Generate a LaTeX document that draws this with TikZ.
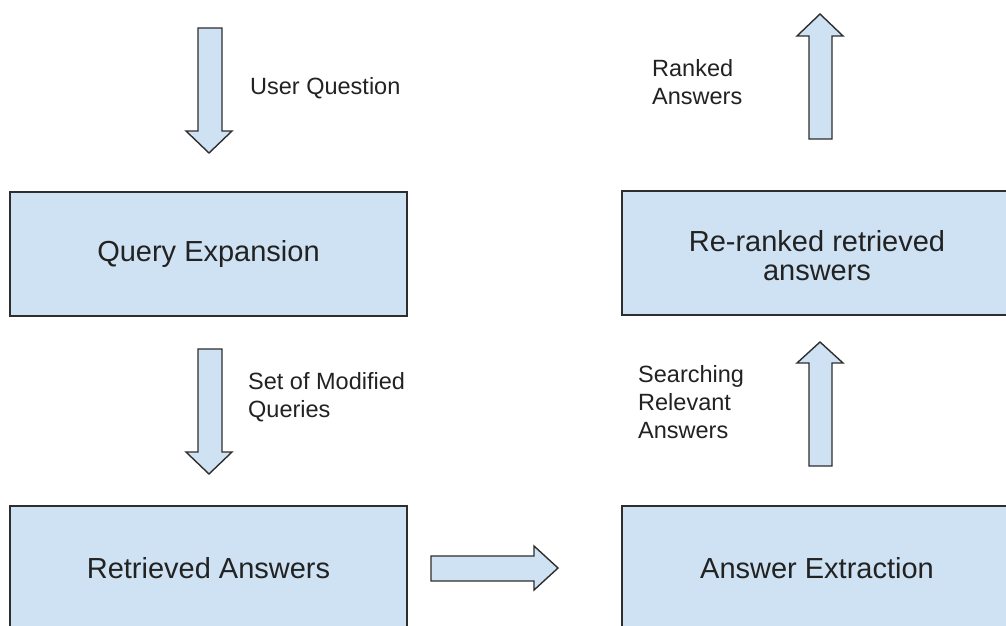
\documentclass[tikz,border=0pt]{standalone}
\usepackage{fontspec}
\setmainfont{Liberation Sans}
\definecolor{boxfill}{HTML}{CFE2F3}
\definecolor{edge}{HTML}{2E2E2E}
\definecolor{txt}{HTML}{222222}
\begin{document}
\begin{tikzpicture}[x=1pt,y=-1pt,
  stagebox/.style={draw=edge,line width=1.6pt,fill=boxfill,rectangle,inner sep=0pt,
    text=txt,align=center,font=\fontsize{29}{27}\selectfont},
  boxtext/.style={inner sep=0pt,text=txt,align=center,font=\fontsize{29}{29}\selectfont},
  blockarrow/.style={draw=edge,line width=1.4pt,fill=boxfill,line join=miter},
  lbl/.style={anchor=west,inner sep=0pt,text=txt,align=left,font=\fontsize{23.5}{28}\selectfont}]
\clip (0,0) rectangle (1006,626);
\fill[white] (0,0) rectangle (1006,626);
% boxes
\node[stagebox,minimum width=397pt,minimum height=124pt] (qe) at (208.5,254) {Query Expansion};
\node[stagebox,minimum width=390pt,minimum height=124pt] (rr) at (817,253) {};
\node[boxtext] (rrt) at ([yshift=-3pt]rr.center) {Re-ranked retrieved\\answers};
\node[stagebox,minimum width=397pt,minimum height=124pt] (ra) at (208.5,568) {Retrieved Answers};
\node[stagebox,minimum width=390pt,minimum height=124pt] (ae) at (817,568) {Answer Extraction};
% block arrows
\draw[blockarrow] (198,28) -- (222,28) -- (222,131) -- (232,131) -- (209,153) -- (186,131) -- (198,131) -- cycle;
\draw[blockarrow] (198,349) -- (222,349) -- (222,452) -- (232,452) -- (209,474) -- (186,452) -- (198,452) -- cycle;
\draw[blockarrow] (431,556) -- (534,556) -- (534,546) -- (558,568) -- (534,590) -- (534,581) -- (431,581) -- cycle;
\draw[blockarrow] (809,139) -- (809,36) -- (797,36) -- (820,14) -- (843,36) -- (832,36) -- (832,139) -- cycle;
\draw[blockarrow] (809,466) -- (809,363) -- (797,363) -- (820,342) -- (843,363) -- (832,363) -- (832,466) -- cycle;
% labels
\node[lbl] (l1) at (250,88) {User Question};
\node[lbl] (l2) at (248,397) {Set of Modified\\Queries};
\node[lbl] (l3) at (652,82) {Ranked\\Answers};
\node[lbl] (l4) at (638,402) {Searching\\Relevant\\Answers};
\end{tikzpicture}
\end{document}
